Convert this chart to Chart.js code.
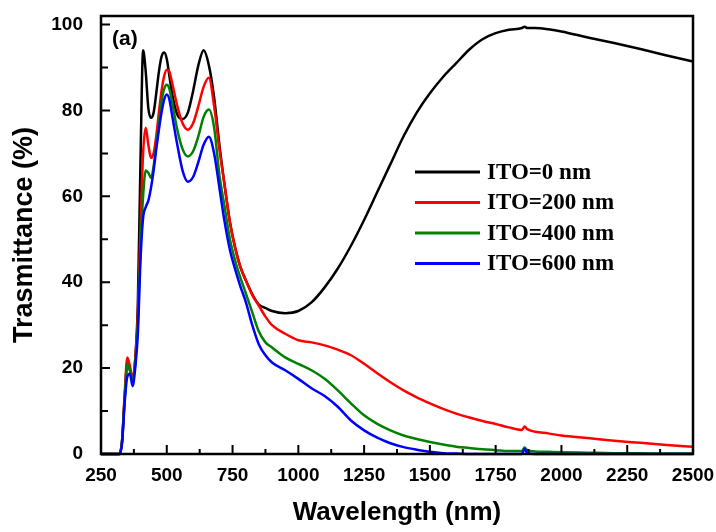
<!doctype html>
<html lang="en">
  <head>
    <meta charset="utf-8">
    <title>Trasmittance</title>
    <script src="https://cdn.jsdelivr.net/npm/chart.js@4.4.1/dist/chart.umd.min.js"></script>
    <style>
      html, body { margin: 0; padding: 0; background: #fff; }
      #wrap { width: 716px; height: 532px; }
    </style>
  </head>
  <body>
    <div id="wrap"><canvas id="grafica" width="716" height="532"></canvas></div>

  <script>

    // wavelength grid (nm), shared by all spectra
    let wl = [250, 320, 330, 340, 350, 360, 370, 380, 390, 400,
              410, 420, 430, 440, 450, 460, 470, 480, 490, 500,
              510, 520, 540, 560, 580, 600, 620, 640, 660, 680,
              700, 720, 740, 760, 780, 800, 825, 850, 875, 900,
              950, 1000, 1050, 1100, 1150, 1200, 1250, 1300, 1350, 1400,
              1450, 1500, 1550, 1600, 1650, 1700, 1750, 1800, 1850, 1860,
              1870, 1900, 1950, 2000, 2100, 2200, 2300, 2400, 2500];

    // transmittance (%) for each ITO thickness
    let ito0 = [0, 0, 3, 13, 21, 19.5, 17, 22, 35, 68,
                94, 89, 80.5, 78.3, 79.5, 84, 89, 92.5, 93.5, 92,
                88, 84, 79, 78, 79.5, 84.5, 90.5, 94, 90.5, 83,
                72, 62.5, 54, 48, 43.5, 40.5, 37.2, 34.8, 34, 33.3,
                32.8, 33.3, 35.3, 38.8, 43.2, 48.5, 54.5, 61, 67.5, 74,
                79.5, 84, 87.8, 91, 94.2, 96.6, 98, 98.8, 99.2, 99.5,
                99.2, 99.2, 98.9, 98.4, 97, 95.7, 94.3, 92.8, 91.4];

    let ito200 = [0, 0, 3, 14, 22.5, 20.5, 17.5, 22, 32, 52,
                  70, 76, 72, 69, 70, 74, 79.5, 84.5, 88, 89.5,
                  89, 86.5, 81, 77, 75.5, 77, 81, 85.5, 87.6, 81,
                  71, 62.5, 54, 48, 43.5, 40.5, 37, 34.5, 32, 30,
                  28, 26.5, 26, 25.3, 24.3, 23, 21, 18.8, 16.7, 14.8,
                  13.2, 11.8, 10.5, 9.4, 8.5, 7.7, 7, 6.2, 5.6, 6.4,
                  5.8, 5.2, 4.8, 4.3, 3.7, 3.1, 2.6, 2.1, 1.7];

    let ito400 = [0, 0, 3, 13, 21, 19.5, 17, 21, 30, 48,
                  60, 66, 65.5, 64.3, 67, 72, 77, 82, 85, 86,
                  85, 82, 75.5, 71, 69.3, 70.5, 74, 78.5, 80.2, 76,
                  65, 57.5, 50, 45, 41, 37.5, 33, 28.5, 26, 24.8,
                  22.5, 21, 19.5, 17.5, 14.8, 11.8, 9, 7, 5.5, 4.3,
                  3.5, 2.8, 2.2, 1.7, 1.4, 1.1, 0.9, 0.7, 0.7, 1.5,
                  0.9, 0.6, 0.5, 0.4, 0.3, 0.2, 0.15, 0.1, 0.1];

    let ito600 = [0, 0, 2.5, 12, 18, 18.7, 15.8, 20, 28, 45,
                  55, 57.5, 59, 62, 66, 71, 75.5, 79.5, 82.5, 83.7,
                  82.5, 79, 72, 66, 63.4, 64.5, 68, 72, 73.9, 70,
                  62, 54, 47.5, 43, 39, 35.5, 30, 25.5, 23, 21.3,
                  19.5, 17.5, 15.3, 13.5, 11, 7.8, 5.5, 3.8, 2.5, 1.6,
                  1, 0.5, 0.2, 0.1, 0, 0, 0, 0, 0, 1.2,
                  0.2, 0, 0, 0, 0, 0, 0, 0, 0];

    let nombres = ['ITO=0 nm', 'ITO=200 nm', 'ITO=400 nm', 'ITO=600 nm'];
    let colores = ['#000000', '#ff0000', '#008000', '#0000ff'];
    let series = [ito0, ito200, ito400, ito600];

    let xTicks = [250, 500, 750, 1000, 1250, 1500, 1750, 2000, 2250, 2500];
    let yTicks = [0, 20, 40, 60, 80, 100];

    const sans = "'Liberation Sans', Arial, sans-serif";
    const serif = "'Liberation Serif', 'Times New Roman', serif";

    // frame, inward ticks, panel tag and legend
    const marco = {
      id: 'marco',
      afterDraw(chart) {
        const { ctx, chartArea: a, scales: { x, y } } = chart;
        ctx.save();
        ctx.strokeStyle = '#000';
        ctx.lineWidth = 2.5;
        ctx.strokeRect(a.left, a.top, a.right - a.left, a.bottom - a.top);

        ctx.lineWidth = 2;
        ctx.beginPath();
        xTicks.forEach(v => {
          let px = x.getPixelForValue(v);
          ctx.moveTo(px, a.bottom); ctx.lineTo(px, a.bottom - 9);
          if (v + 125 < 2500) {
            let pm = x.getPixelForValue(v + 125);
            ctx.moveTo(pm, a.bottom); ctx.lineTo(pm, a.bottom - 5);
          }
        });
        yTicks.forEach(v => {
          let py = y.getPixelForValue(v);
          ctx.moveTo(a.left, py); ctx.lineTo(a.left + 9, py);
          if (v + 10 < 100) {
            let pm = y.getPixelForValue(v + 10);
            ctx.moveTo(a.left, pm); ctx.lineTo(a.left + 7, pm);
          }
        });
        ctx.stroke();

        ctx.fillStyle = '#000';
        ctx.font = 'bold 21px ' + sans;
        ctx.textBaseline = 'middle';
        ctx.fillText('(a)', a.left + 11, a.top + 23);

        // legend
        ctx.font = 'bold 23px ' + serif;
        chart.data.datasets.forEach((ds, i) => {
          let ly = 172 + i * 30.5;
          ctx.strokeStyle = ds.borderColor;
          ctx.lineWidth = 3;
          ctx.beginPath();
          ctx.moveTo(415, ly); ctx.lineTo(480, ly);
          ctx.stroke();
          ctx.fillText(ds.label, 487, ly + 1);
        });
        ctx.restore();
      }
    };

    let canvas = document.getElementById('grafica').getContext('2d');

    var chart = new Chart(canvas, {
      type: 'line',
      data: {
        datasets: series.map((s, i) => ({
          label: nombres[i],
          data: wl.map((w, j) => ({ x: w, y: s[j] })),
          borderColor: colores[i],
          backgroundColor: colores[i],
          borderWidth: 2.5,
          pointRadius: 0,
          cubicInterpolationMode: 'monotone',
          clip: false,
          order: series.length - i
        }))
      },
      options: {
        responsive: false,
        animation: false,
        layout: { padding: { top: 16, right: 23, left: 0, bottom: 0 } },
        plugins: { legend: { display: false }, tooltip: { enabled: false } },
        scales: {
          x: {
            type: 'linear', min: 250, max: 2500,
            grid: { display: false, drawTicks: false },
            border: { display: false },
            ticks: { stepSize: 250, includeBounds: false, padding: 10, color: '#000',
                     callback: v => String(v),
                     font: { family: sans, size: 19, weight: 'bold' } },
            title: { display: true, text: 'Wavelength (nm)', color: '#000', padding: { top: 22 },
                     font: { family: sans, size: 26, weight: 'bold' } },
            afterFit: s => { s.height = 78; s.paddingLeft = 0; s.paddingRight = 0; }
          },
          y: {
            min: 0, max: 102,
            grid: { display: false, drawTicks: false },
            border: { display: false },
            ticks: { stepSize: 20, includeBounds: false, padding: 18, color: '#000',
                     callback: v => String(v),
                     font: { family: sans, size: 19, weight: 'bold' } },
            title: { display: true, text: 'Trasmittance (%)', color: '#000', padding: { top: 8, bottom: 0 },
                     font: { family: sans, size: 27, weight: 'bold' } },
            afterFit: s => { s.width = 101; s.paddingTop = 0; s.paddingBottom = 0; }
          }
        }
      },
      plugins: [marco]
    });

  </script>
  </body>
</html>
